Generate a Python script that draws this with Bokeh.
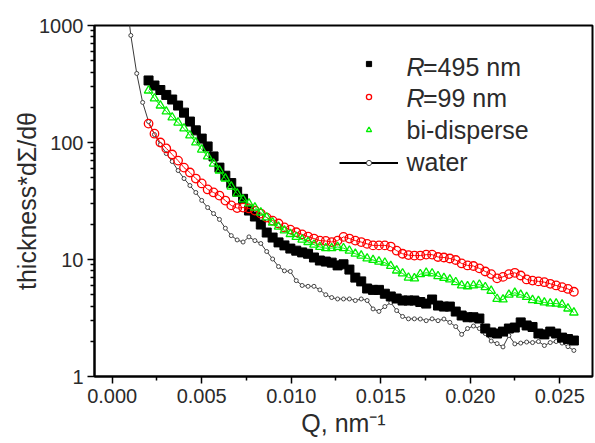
from bokeh.plotting import figure
from bokeh.models import (FixedTicker, PrintfTickFormatter, Legend, LegendItem,
                          Label, Range1d, ColumnDataSource)
from bokeh.embed import file_html
from bokeh.resources import INLINE

# scattering vector Q (nm^-1), shared by the three particle samples
q = [0.00203, 0.00236, 0.00269, 0.00302, 0.00335, 0.00368, 0.00401, 0.00434,
     0.00467, 0.00500, 0.00533, 0.00566, 0.00599, 0.00632, 0.00665, 0.00698,
     0.00731, 0.00764, 0.00797, 0.00830, 0.00863, 0.00896, 0.00929, 0.00962,
     0.00995, 0.01028, 0.01061, 0.01094, 0.01127, 0.01160, 0.01193, 0.01226,
     0.01259, 0.01292, 0.01325, 0.01358, 0.01391, 0.01424, 0.01457, 0.01490,
     0.01523, 0.01556, 0.01589, 0.01622, 0.01655, 0.01688, 0.01721, 0.01754,
     0.01787, 0.01820, 0.01853, 0.01886, 0.01919, 0.01952, 0.01985, 0.02018,
     0.02051, 0.02084, 0.02117, 0.02150, 0.02183, 0.02216, 0.02249, 0.02282,
     0.02315, 0.02348, 0.02381, 0.02414, 0.02447, 0.02480, 0.02513, 0.02546,
     0.02579]
# water background starts at lower Q
q_water = [0.00071, 0.00104, 0.00137, 0.00170] + q

r495 = [339, 307, 281, 255, 233, 207, 180, 151, 127, 108,
        92.5, 76, 61, 52, 45, 38, 33, 26.2, 23.3, 19.9,
        17.0, 15.4, 14.0, 13.2, 12.4, 11.9, 11.5, 11.2, 10.4, 9.8,
        9.6, 9.4, 8.9, 9.1, 8.2, 7.0, 6.5, 5.65, 5.5, 5.5,
        5.1, 4.83, 4.64, 4.46, 4.46, 4.46, 4.33, 4.2, 4.55, 4.04,
        3.96, 3.96, 3.59, 3.32, 3.21, 3.21, 3.13, 2.57, 2.38, 2.33,
        2.42, 2.57, 2.62, 2.9, 2.73, 2.65, 2.33, 2.29, 2.42, 2.33,
        2.15, 2.09, 2.03]

r99 = [145, 119, 100, 89, 79, 70, 61, 55.4, 49.2, 44.7,
       39.7, 37.4, 35.2, 31.9, 29.0, 27.5, 27.8, 27.3, 26.2, 24.7,
       22.8, 21.5, 20.3, 18.8, 18.0, 17.1, 16.4, 15.7, 15.1, 14.5,
       14.4, 14.1, 14.5, 15.6, 15.1, 14.5, 14.1, 13.6, 13.2, 13.2,
       13.2, 12.9, 11.9, 11.2, 10.9, 10.8, 10.8, 11.0, 11.0, 10.5,
       10.4, 10.2, 9.9, 9.25, 8.9, 8.8, 8.4, 7.9, 7.5, 6.9,
       7.1, 7.5, 7.7, 7.3, 6.75, 6.6, 6.5, 6.4, 6.2, 6.0,
       5.8, 5.6, 5.3]

bidisperse = [278, 238, 207, 184, 164, 148, 132, 115, 100, 87,
              76, 66, 57.6, 49.2, 42, 36.6, 32.6, 30.1, 27.8, 25.2,
              22.9, 20.7, 19.1, 17.7, 16.5, 15.6, 14.8, 14.1, 13.4, 12.8,
              12.5, 12.5, 12.8, 12.5, 11.9, 11.2, 10.8, 10.2, 9.9, 9.6,
              9.4, 8.8, 8.05, 7.6, 7.0, 6.9, 7.5, 7.7, 7.6, 7.2,
              6.95, 6.75, 6.4, 6.0, 5.9, 6.0, 6.1, 5.8, 5.4, 4.6,
              4.55, 5.0, 5.2, 5.0, 4.78, 4.5, 4.42, 4.29, 4.21, 4.2,
              4.12, 3.81, 3.52]

water = [2200, 822, 389, 220,
         151, 117, 96, 80.5, 68.8, 57.6, 49.2, 42.9, 37.4,
         32.0, 27.8, 24.7, 22.0, 18.5,
         16.0, 14.7, 14.1, 15.6, 14.5, 13.7, 11.7, 10.1, 8.7, 8.0, 7.9, 6.6,
         6.0, 5.9, 5.9, 5.5, 5.0, 4.73, 4.6, 4.6, 4.6, 4.46, 4.6, 4.46,
         3.78, 3.6, 3.96, 4.29, 3.66, 3.26, 3.11, 3.11, 3.1, 3.0, 3.11, 3.0,
         3.1, 2.9, 2.67, 2.29, 2.57, 2.7, 2.57, 2.33, 2.01, 1.91, 1.79, 2.24,
         1.9, 1.93, 1.97, 1.95, 1.99, 1.84, 1.95, 1.99, 1.93, 1.8, 1.67]

x_ticks = [0.0, 0.005, 0.010, 0.015, 0.020, 0.025]
x_minor = [0.0025, 0.0075, 0.0125, 0.0175, 0.0225]
y_ticks = [1, 10, 100, 1000]
y_minor = [2, 3, 4, 5, 6, 7, 8, 9, 20, 30, 40, 50, 60, 70, 80, 90,
           200, 300, 400, 500, 600, 700, 800, 900]

FONT = "Liberation Sans"
TXT = "#2b2b2b"

p = figure(width=595, height=443, output_backend="svg", toolbar_location=None,
           x_range=Range1d(-0.00099, 0.02683), y_range=Range1d(1, 1000),
           y_axis_type="log",
           min_border_left=94, min_border_right=3,
           min_border_top=25, min_border_bottom=67)
p.background_fill_color = "white"
p.border_fill_color = "white"
p.outline_line_color = "black"
p.outline_line_width = 2
p.grid.visible = False

for ax in (p.xaxis[0], p.yaxis[0]):
    ax.axis_line_width = 2
    ax.axis_line_color = "black"
    ax.major_tick_in = 0
    ax.major_tick_out = 7
    ax.minor_tick_in = 0
    ax.minor_tick_out = 4
    ax.major_tick_line_width = 1.5
    ax.minor_tick_line_width = 1.5
    ax.major_label_text_font = FONT
    ax.major_label_text_font_size = "20px"
    ax.major_label_text_color = TXT
    ax.axis_label_text_font = FONT
    ax.axis_label_text_font_size = "25px"
    ax.axis_label_text_font_style = "normal"
    ax.axis_label_text_color = TXT

xa = p.xaxis[0]
xa.ticker = FixedTicker(ticks=x_ticks, minor_ticks=x_minor)
xa.formatter = PrintfTickFormatter(format="%.3f")
xa.major_label_standoff = 5
xa.axis_label = "Q, nm\u207b\u00b9"
xa.axis_label_standoff = 3

ya = p.yaxis[0]
ya.ticker = FixedTicker(ticks=y_ticks, minor_ticks=y_minor)
ya.formatter = PrintfTickFormatter(format="%d")
ya.major_label_standoff = 4
ya.axis_label = "thickness*dΣ/dθ"
ya.axis_label_standoff = -5

src_495 = ColumnDataSource(dict(q=q, v=r495))
src_99 = ColumnDataSource(dict(q=q, v=r99))
src_bi = ColumnDataSource(dict(q=q, v=bidisperse))
src_w = ColumnDataSource(dict(q=q_water, v=water))

w_line = p.line("q", "v", source=src_w, line_color="#3a3a3a", line_width=1)
w_pts = p.scatter("q", "v", source=src_w, marker="circle", size=4,
                  line_color="#444444", line_width=1, fill_color="white")

p.line("q", "v", source=src_495, line_color="black", line_width=1)
b_pts = p.scatter("q", "v", source=src_495, marker="square", size=9,
                  line_color="black", fill_color="black")

p.line("q", "v", source=src_99, line_color="#ff0000", line_width=1)
r_pts = p.scatter("q", "v", source=src_99, marker="circle", size=8.5,
                  line_color="#ff0000", line_width=1.3, fill_color=None)

p.line("q", "v", source=src_bi, line_color="#00ee00", line_width=1)
g_pts = p.scatter("q", "v", source=src_bi, marker="triangle", size=8.5,
                  line_color="#00ee00", line_width=1.3, fill_color=None)

# heavier stroke used only for the water key in the legend (no visible data)
nan = float("nan")
w_key = p.line(x=[nan], y=[nan], line_color="black", line_width=2)

# legend glyphs; the entry texts are drawn as labels so R can be italic
legend = Legend(items=[LegendItem(label=" ", renderers=[b_pts]),
                       LegendItem(label=" ", renderers=[r_pts]),
                       LegendItem(label=" ", renderers=[g_pts]),
                       LegendItem(label=" ", renderers=[w_key, w_pts])],
                location=(245, 207), padding=0, margin=0, spacing=20,
                glyph_width=59, glyph_height=13, label_height=13, label_width=1,
                label_standoff=0, label_text_font_size="8px",
                border_line_color=None, background_fill_alpha=0)
p.add_layout(legend)


def text(s, x, y, size="25px", style="normal"):
    p.add_layout(Label(x=x, y=y, x_units="screen", y_units="screen", text=s,
                       text_font=FONT, text_font_size=size,
                       text_font_style=style, text_color=TXT,
                       text_baseline="alphabetic", text_align="left"))


text("R", 312, 310, style="italic")
text("=495 nm", 328.5, 310)
text("R", 312, 278.3, style="italic")
text("=99 nm", 328.5, 278.3)
text("bi-disperse", 312, 246.7)
text("water", 312, 215)

open("out.html", "w").write(file_html(p, INLINE))
